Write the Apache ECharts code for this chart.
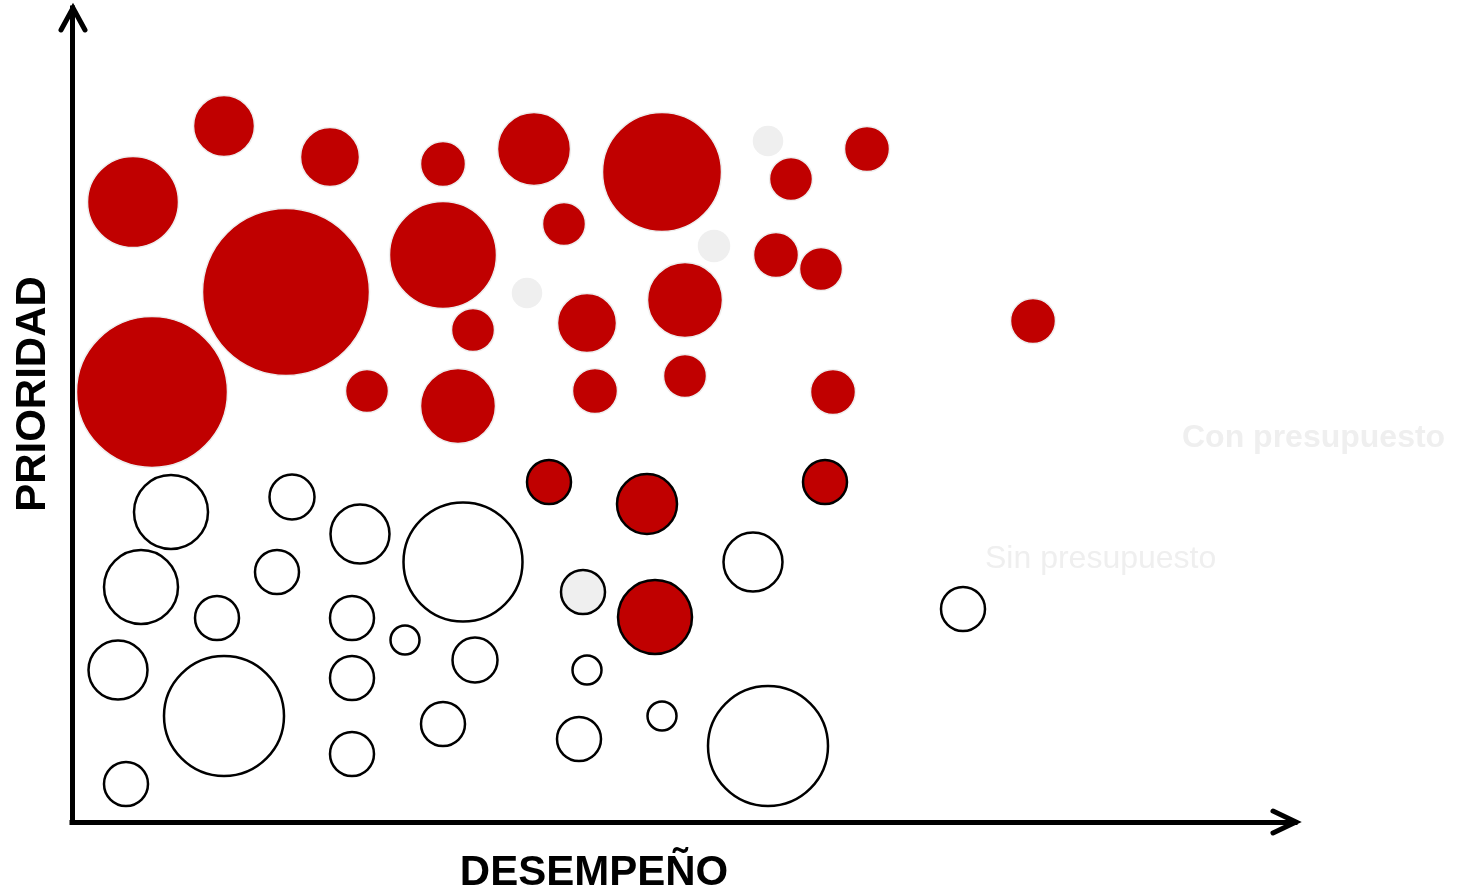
<!DOCTYPE html>
<html>
<head>
<meta charset="utf-8">
<script src="https://cdn.jsdelivr.net/npm/echarts@6/dist/echarts.min.js"></script>
<style>
html,body{margin:0;padding:0;background:#fff;}
#chart{width:1459px;height:892px;}
</style>
</head>
<body>
<div id="chart"></div>
<script>
// Axis titles and labels
const xTitle = 'DESEMPEÑO';
const yTitle = 'PRIORIDAD';
const labelCon = 'Con presupuesto';
const labelSin = 'Sin presupuesto';

// [desempeño, prioridad, tamaño]
const conPresupuesto = [
  [152, 696, 30], [258, 665, 29], [371, 658, 22], [462, 673, 36], [590, 650, 59],
  [795, 673, 22], [719, 643, 21], [61, 620, 45], [492, 598, 21], [214, 530, 83],
  [371, 567, 53], [704, 567, 22], [749, 553, 21], [613, 522, 37], [515, 499, 29],
  [401, 492, 21], [961, 501, 22], [80, 430, 75], [295, 431, 21], [386, 416, 37],
  [523, 431, 22], [613, 446, 21], [761, 430, 22]
];
const conPresupuestoMarcado = [
  [477, 340, 23], [575, 318, 31], [753, 340, 23], [583, 205, 38]
];
const pendientes = [
  [696, 681, 15], [642, 576, 16], [455, 529, 15]
];
const pendientesMarcado = [
  [511, 230, 23]
];
const sinPresupuesto = [
  [99, 310, 38], [220, 325, 23.5], [288, 288, 30.5], [391, 260, 60.5], [69, 235, 38],
  [205, 250, 23], [145, 204, 23], [280, 204, 23], [333, 182, 15.5], [403, 162, 23.5],
  [46, 152, 30.5], [152, 106, 61], [280, 144, 23], [371, 98, 23], [515, 152, 15.5],
  [590, 106, 15.5], [507, 83, 23], [696, 76, 61], [280, 68, 23], [54, 38, 23],
  [681, 260, 30.5], [891, 213, 23]
];

const chart = echarts.init(document.getElementById('chart'), null, {renderer: 'canvas'});
const RED = '#c00000';

function bubble(name, data, color, borderColor, borderWidth, extra) {
  return {
    name: name,
    type: 'scatter',
    data: data,
    symbol: 'circle',
    symbolSize: v => v[2] * 2 - borderWidth + 0.5 + extra,
    itemStyle: {color: color, borderColor: borderColor, borderWidth: borderWidth, opacity: 1},
    emphasis: {disabled: true},
    silent: true
  };
}

chart.setOption({
  animation: false,
  backgroundColor: '#ffffff',
  grid: {left: 72, right: 164, top: 8, bottom: 70},
  xAxis: {
    type: 'value', min: 0, max: 1223,
    axisLine: {show: true, lineStyle: {color: '#000', width: 5, cap: 'square'}},
    axisTick: {show: false}, axisLabel: {show: false}, splitLine: {show: false}
  },
  yAxis: {
    type: 'value', min: 0, max: 814,
    axisLine: {show: true, lineStyle: {color: '#000', width: 5, cap: 'square'}},
    axisTick: {show: false}, axisLabel: {show: false}, splitLine: {show: false}
  },
  series: [
    bubble(labelCon, conPresupuesto, RED, '#eeeeee', 1.5, 2),
    bubble(labelCon + ' *', conPresupuestoMarcado, RED, '#000000', 2.5, 0),
    bubble('Pendiente', pendientes, '#efefef', '#efefef', 0, 0),
    bubble('Pendiente *', pendientesMarcado, '#efefef', '#000000', 2.5, 0),
    bubble(labelSin, sinPresupuesto, '#ffffff', '#000000', 2.5, 0)
  ],
  graphic: [
    {type: 'polyline', shape: {points: [[1273, 811], [1296, 822], [1273, 833]]},
     style: {fill: null, stroke: '#000', lineWidth: 5, lineCap: 'round', lineJoin: 'miter'}, silent: true, z: 10},
    {type: 'polyline', shape: {points: [[61, 30], [73, 8], [85, 30]]},
     style: {fill: null, stroke: '#000', lineWidth: 5, lineCap: 'round', lineJoin: 'miter'}, silent: true, z: 10},
    {type: 'text', x: 594, y: 873,
     style: {text: xTitle, fill: '#000', font: 'bold 42px "Liberation Sans", Arial, sans-serif', textAlign: 'center', textVerticalAlign: 'middle'}},
    {type: 'text', x: 33, y: 394, rotation: Math.PI / 2,
     style: {text: yTitle, fill: '#000', font: 'bold 42px "Liberation Sans", Arial, sans-serif', textAlign: 'center', textVerticalAlign: 'middle'}},
    {type: 'text', x: 1182, y: 438,
     style: {text: labelCon, fill: '#efefef', font: 'bold 32px "Liberation Sans", Arial, sans-serif', textAlign: 'left', textVerticalAlign: 'middle'}},
    {type: 'text', x: 985, y: 559,
     style: {text: labelSin, fill: '#efefef', font: '32px "Liberation Sans", Arial, sans-serif', textAlign: 'left', textVerticalAlign: 'middle'}}
  ]
});
</script>
</body>
</html>
